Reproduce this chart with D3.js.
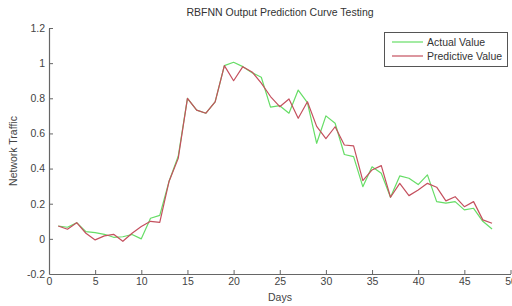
<!DOCTYPE html>
<html><head><meta charset="utf-8">
<script src="https://cdn.jsdelivr.net/npm/d3@7"></script>
<style>
html,body{margin:0;padding:0;background:#fff;}
svg{display:block;font-family:"Liberation Sans",Arial,sans-serif;}
</style></head>
<body><svg id="c" width="512" height="306"></svg>
<script>
const days = d3.range(1, 49);
const actualValues = [0.073,0.066,0.092,0.041,0.035,0.026,0.009,0.012,0.025,0.0,0.117,0.134,
  0.326,0.47,0.80,0.733,0.715,0.78,0.986,1.005,0.98,0.946,0.92,0.75,
  0.758,0.715,0.847,0.775,0.544,0.70,0.658,0.48,0.468,0.297,0.41,0.373,
  0.237,0.358,0.345,0.309,0.364,0.212,0.203,0.212,0.165,0.174,0.10,0.056];
const predictiveValues = [0.073,0.055,0.092,0.032,-0.006,0.017,0.026,-0.014,0.032,0.07,0.10,0.094,
  0.326,0.458,0.80,0.733,0.715,0.78,0.986,0.90,0.98,0.95,0.886,0.81,
  0.752,0.796,0.686,0.78,0.64,0.57,0.638,0.534,0.529,0.331,0.392,0.417,
  0.237,0.316,0.246,0.278,0.316,0.294,0.216,0.24,0.183,0.212,0.108,0.089];
const xTicks = [0,5,10,15,20,25,30,35,40,45,50];
const yTicks = [-0.2,0,0.2,0.4,0.6,0.8,1,1.2];
const seriesNames = ["Actual Value","Predictive Value"];
const seriesColors = ["#66dd66","#c4505e"];

const svg = d3.select("#c");
const x = d3.scaleLinear().domain([0,50]).range([49,510.5]);
const y = d3.scaleLinear().domain([-0.2,1.2]).range([274,28]);
const axisColor = "#666";

// axes
const xa = svg.append("g").attr("transform",`translate(0,${y(-0.2)})`)
  .call(d3.axisBottom(x).tickValues(xTicks).tickFormat(d3.format("d")).tickSizeInner(-4).tickSizeOuter(0).tickPadding(4));
const ya = svg.append("g").attr("transform",`translate(${x(0)},0)`)
  .call(d3.axisLeft(y).tickValues(yTicks).tickFormat(d=>String(+d.toFixed(1))).tickSizeInner(-4).tickSizeOuter(0).tickPadding(4));
[xa,ya].forEach(g=>{
  g.select(".domain").attr("stroke",axisColor).attr("stroke-width",1.2);
  g.selectAll(".tick line").attr("stroke",axisColor).attr("stroke-width",1);
  g.selectAll(".tick text").attr("fill","#444").style("font-size","10.5px").style("font-family","'Liberation Sans',Arial,sans-serif");
});
// hide ticks at ends that overlap axes
xa.selectAll(".tick").filter(d=>d===0).select("line").remove();
ya.selectAll(".tick").filter(d=>d===-0.2).select("line").remove();

// lines
const line = d3.line().x((d,i)=>x(days[i])).y(d=>y(d));
[actualValues,predictiveValues].forEach((vals,k)=>{
  svg.append("path").datum(vals).attr("d",line).attr("fill","none")
    .attr("stroke",seriesColors[k]).attr("stroke-width",1.2).attr("stroke-linejoin","round");
});

// title and labels
svg.append("text").attr("x",280).attr("y",16).attr("text-anchor","middle")
  .attr("fill","#333").style("font-size","10.5px").text("RBFNN Output Prediction Curve Testing");
svg.append("text").attr("x",280).attr("y",301).attr("text-anchor","middle")
  .attr("fill","#444").style("font-size","10.5px").text("Days");
svg.append("text").attr("transform","translate(17,151) rotate(-90)").attr("text-anchor","middle")
  .attr("fill","#444").style("font-size","10.5px").text("Network Traffic");

// legend
const lg = svg.append("g");
lg.append("rect").attr("x",384.5).attr("y",32.5).attr("width",123).attr("height",34)
  .attr("fill","#fff").attr("stroke","#555").attr("stroke-width",1);
seriesNames.forEach((n,i)=>{
  const yy = 42 + i*14;
  lg.append("line").attr("x1",392).attr("x2",423).attr("y1",yy).attr("y2",yy)
    .attr("stroke",seriesColors[i]).attr("stroke-width",1.2);
  lg.append("text").attr("x",427).attr("y",yy+4).attr("fill","#333")
    .style("font-size","10.5px").text(n);
});
</script></body></html>
